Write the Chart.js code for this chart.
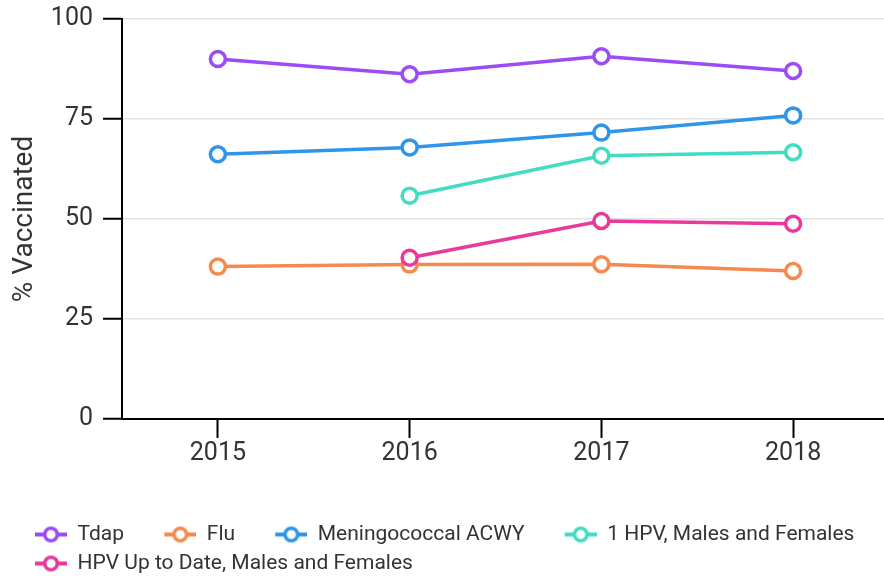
<!DOCTYPE html>
<html><head><meta charset="utf-8">
<script src="https://cdn.jsdelivr.net/npm/chart.js@4/dist/chart.umd.min.js"></script>
<style>
html,body{margin:0;padding:0;overflow:hidden;background:#fff;width:884px;height:577px}
#clip{position:relative;width:884px;height:577px;overflow:hidden}
#wrap{position:absolute;left:0;top:0;width:900px;height:584px}
</style></head><body>
<div id="clip"><div id="wrap"><canvas id="c" width="900" height="584"></canvas></div></div>
<script>
// ---- data ----
const years = ['2015', '2016', '2017', '2018'];
const seriesNames = ['Tdap', 'Flu', 'Meningococcal ACWY', '1 HPV, Males and Females', 'HPV Up to Date, Males and Females'];
const tdap = [90.0, 86.2, 90.7, 87.0];
const flu = [38.1, 38.6, 38.7, 37.0];
const menACWY = [66.2, 67.9, 71.6, 75.9];
const hpv1 = [null, 55.8, 65.8, 66.7];
const hpvUTD = [null, 40.3, 49.5, 48.8];
const yTicks = [0, 25, 50, 75, 100];
const yTitle = '% Vaccinated';

// ---- styles ----
const colors = ['#9a4cf6', '#f5894e', '#2f95e8', '#41dcc2', '#e83a9b'];
const FAM = 'Roboto, "Noto Sans", sans-serif';
const SZ = {tick: 25, legend: 21, title: 28};
const TXT = '#333333';

function makeIcon(color) {
  const cv = document.createElement('canvas');
  cv.width = 59; cv.height = 20;
  const g = cv.getContext('2d');
  g.strokeStyle = color; g.lineWidth = 4;
  g.beginPath(); g.moveTo(27, 10); g.lineTo(59, 10); g.stroke();
  g.beginPath(); g.arc(43, 10, 6.3, 0, Math.PI * 2);
  g.fillStyle = '#fff'; g.fill(); g.lineWidth = 3.5; g.stroke();
  return cv;
}
const icons = colors.map(makeIcon);

const allSeries = [tdap, flu, menACWY, hpv1, hpvUTD];
const datasets = allSeries.map((vals, i) => ({
  label: seriesNames[i],
  data: vals,
  borderColor: colors[i],
  backgroundColor: '#ffffff',
  borderWidth: 3.5,
  pointRadius: 7.5,
  pointBorderWidth: 3.5,
  pointBackgroundColor: '#ffffff',
  pointBorderColor: colors[i],
  pointHoverRadius: 7.5,
  tension: 0,
  spanGaps: false,
  order: i === 4 ? 0 : 1
}));

const legendPad = 29 - SZ.legend;
const legendH = 2 * 29 + 10;

new Chart(document.getElementById('c'), {
  type: 'line',
  data: { labels: years, datasets },
  options: {
    responsive: false,
    animation: false,
    events: [],
    devicePixelRatio: 1,
    layout: { padding: { top: 19, right: 0, left: 0, bottom: 0 } },
    plugins: {
      tooltip: { enabled: false },
      legend: {
        position: 'bottom',
        align: 'start',
        labels: {
          usePointStyle: true,
          pointStyleWidth: 59,
          padding: legendPad,
          color: TXT,
          font: { family: FAM, size: SZ.legend },
          generateLabels: (chart) => chart.data.datasets.map((ds, i) => ({
            text: ds.label + ' ',
            fillStyle: 'transparent',
            strokeStyle: 'transparent',
            lineWidth: 0,
            pointStyle: icons[i],
            fontColor: TXT,
            hidden: false,
            datasetIndex: i
          }))
        }
      }
    },
    scales: {
      x: {
        type: 'category',
        offset: true,
        grid: {
          display: true, drawOnChartArea: false, drawTicks: true, offset: false,
          tickLength: 19, tickColor: '#000', tickWidth: 2
        },
        border: { display: true, color: '#000', width: 2 },
        ticks: { color: TXT, padding: 3, maxRotation: 0, font: { family: FAM, size: SZ.tick, lineHeight: 1 } },
        afterFit: (s) => { s.height = 584 - legendH - 419; }
      },
      y: {
        min: 0, max: 100,
        afterBuildTicks: (s) => { s.ticks = yTicks.map(v => ({ value: v })); },
        grid: {
          color: '#e2e2e2', lineWidth: 1.5, drawTicks: true,
          tickLength: 19, tickColor: '#000', tickWidth: 2
        },
        border: { display: true, color: '#000', width: 2 },
        ticks: { color: TXT, padding: 10, font: { family: FAM, size: SZ.tick, lineHeight: 0.5 } },
        title: {
          display: true, text: yTitle, color: TXT,
          font: { family: FAM, size: SZ.title }, padding: { top: 8, bottom: 0 }
        },
        afterFit: (s) => { s.width = 122; }
      }
    }
  }
});
</script>
</body></html>
